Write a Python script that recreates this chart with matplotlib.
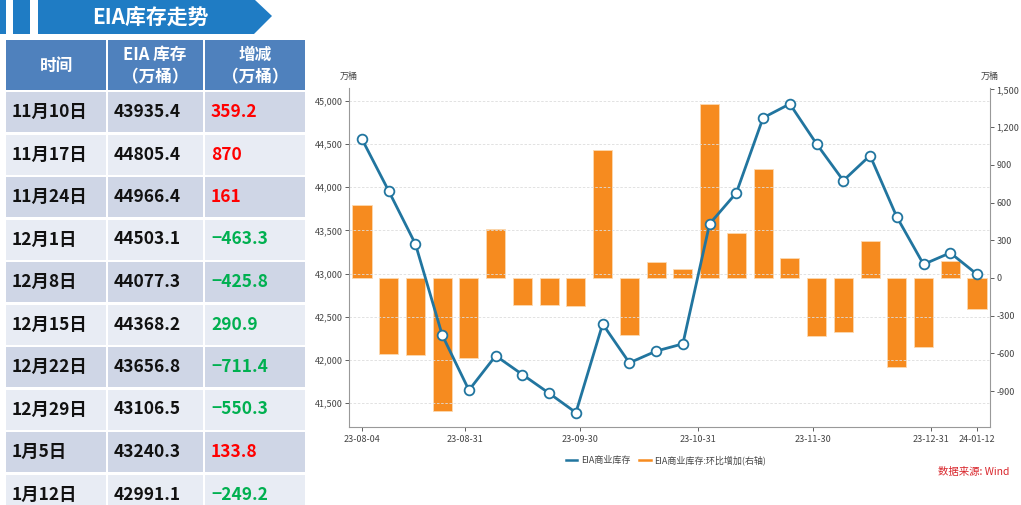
import numpy as np
import pandas as pd
import matplotlib
matplotlib.use('Agg')
import matplotlib.pyplot as plt
import matplotlib.dates as mdates
from matplotlib.patches import Rectangle, Polygon
from matplotlib.ticker import FuncFormatter, FixedLocator

plt.rcParams['font.family'] = ['Noto Sans CJK SC', 'DejaVu Sans']
plt.rcParams['axes.unicode_minus'] = False

# weekly EIA commercial crude stocks (万桶) and week-on-week change
dates = pd.date_range('2023-08-04', '2024-01-12', freq='7D')
stock = [44558, 43957, 43341, 42287, 41648, 42047, 41829, 41612, 41388, 42415,
         41965, 42101, 42185, 43576.2, 43935.4, 44805.4, 44966.4, 44503.1,
         44077.3, 44368.2, 43656.8, 43106.5, 43240.3, 42991.1]
change = [578, -601, -616, -1056, -636, 392, -216, -218, -225, 1018,
          -450, 130, 72, 1385, 359.2, 870, 161, -463.3, -425.8, 290.9,
          -711.4, -550.3, 133.8, -249.2]

xtick_dates = ['2023-08-04', '2023-08-31', '2023-09-30', '2023-10-31',
               '2023-11-30', '2023-12-31', '2024-01-12']
left_ticks = [41500, 42000, 42500, 43000, 43500, 44000, 44500, 45000]
right_ticks = [-900, -600, -300, 0, 300, 600, 900, 1200, 1500]

# table on the left
tbl_dates = ['11月10日', '11月17日', '11月24日', '12月1日', '12月8日',
             '12月15日', '12月22日', '12月29日', '1月5日', '1月12日']
tbl_stock = ['43935.4', '44805.4', '44966.4', '44503.1', '44077.3',
             '44368.2', '43656.8', '43106.5', '43240.3', '42991.1']
tbl_change = ['359.2', '870', '161', '−463.3', '−425.8',
              '290.9', '−711.4', '−550.3', '133.8', '−249.2']
tbl_color = ['#ff0000', '#ff0000', '#ff0000', '#00b050', '#00b050',
             '#00b050', '#00b050', '#00b050', '#ff0000', '#00b050']

W, H = 1021, 505
fig = plt.figure(figsize=(W / 100, H / 100), dpi=100)

# background layer in pixel coordinates
bg = fig.add_axes([0, 0, 1, 1])
bg.set_xlim(0, W)
bg.set_ylim(H, 0)
bg.axis('off')

blue = '#1f7cc4'
bg.add_patch(Rectangle((0, 0), 6, 34, color=blue, lw=0))
bg.add_patch(Rectangle((13, 0), 17, 34, color=blue, lw=0))
bg.add_patch(Polygon([(38, 0), (255, 0), (272, 16), (254, 34), (38, 34)],
                     closed=True, color=blue, lw=0))
bg.text(150, 17, 'EIA库存走势', color='white', fontsize=15, fontweight='bold',
        ha='center', va='center')

cols = [5, 107, 204, 306]
head_top, head_bot = 40, 90
for i in range(3):
    bg.add_patch(Rectangle((cols[i] + 1, head_top), cols[i + 1] - cols[i] - 2,
                           head_bot - head_top, color='#4f81bd', lw=0))
bg.text(56, 66, '时间', color='white', fontsize=12, fontweight='bold',
        ha='center', va='center')
bg.text(155, 55, 'EIA 库存', color='white', fontsize=12, fontweight='bold',
        ha='center', va='center')
bg.text(155, 77, '（万桶）', color='white', fontsize=12, fontweight='bold',
        ha='center', va='center')
bg.text(255, 55, '增减', color='white', fontsize=12, fontweight='bold',
        ha='center', va='center')
bg.text(255, 77, '（万桶）', color='white', fontsize=12, fontweight='bold',
        ha='center', va='center')

row_h = 42.5
for r in range(len(tbl_dates)):
    top = 92 + r * row_h
    fc = '#cfd6e6' if r % 2 == 0 else '#e8ecf4'
    for i in range(3):
        bg.add_patch(Rectangle((cols[i] + 1, top), cols[i + 1] - cols[i] - 2,
                               row_h - 2.5, color=fc, lw=0))
    yc = top + (row_h - 2.5) / 2
    bg.text(12, yc, tbl_dates[r], fontsize=12.5, fontweight='bold', color='#111111',
            ha='left', va='center')
    bg.text(114, yc, tbl_stock[r], fontsize=12.5, fontweight='bold', color='#111111',
            ha='left', va='center')
    bg.text(211, yc, tbl_change[r], fontsize=12.5, fontweight='bold', color=tbl_color[r],
            ha='left', va='center')

# chart
ax = fig.add_axes([349 / W, 1 - 427 / H, (990 - 349) / W, (427 - 88) / H])
ax2 = ax.twinx()
ax.set_zorder(ax2.get_zorder() + 1)
ax.patch.set_visible(False)

line_c = '#21759f'
bar_c = '#f68b1f'
ax2.bar(dates, change, width=5, color=bar_c, edgecolor='#fcd9b0', linewidth=0.6)
ax.plot(dates, stock, color=line_c, lw=2.0, marker='o', markersize=7,
        markerfacecolor='white', markeredgecolor=line_c, markeredgewidth=1.3)

ax.set_xlim(dates[0] - pd.Timedelta(days=3.4), dates[-1] + pd.Timedelta(days=3.4))
ax.set_ylim(41221, 45151)
ax2.set_ylim(-1185, 1511)

ax.yaxis.set_major_locator(FixedLocator(left_ticks))
ax.yaxis.set_major_formatter(FuncFormatter(lambda v, p: f'{v:,.0f}'))
ax2.yaxis.set_major_locator(FixedLocator(right_ticks))
ax2.yaxis.set_major_formatter(FuncFormatter(lambda v, p: f'{v:,.0f}'))
ax.set_xticks(pd.to_datetime(xtick_dates))
ax.xaxis.set_major_formatter(mdates.DateFormatter('%y-%m-%d'))

ax.grid(axis='y', linestyle=(0, (3, 2)), color='#dddddd', linewidth=0.6)
ax.set_axisbelow(True)

for a in (ax, ax2):
    a.spines['top'].set_visible(False)
    for s in ('left', 'right', 'bottom'):
        a.spines[s].set_color('#999999')
        a.spines[s].set_linewidth(0.8)
    a.tick_params(labelsize=6.5, colors='#444444', length=3, width=0.6, pad=1.5)
ax.tick_params(axis='x', pad=3)
ax.spines['right'].set_visible(False)
ax2.spines['left'].set_visible(False)
ax2.spines['bottom'].set_visible(False)

fig.text(349 / W, 1 - 76 / H, '万桶', fontsize=6.5, color='#444444',
         ha='center', va='center')
fig.text(990 / W, 1 - 76 / H, '万桶', fontsize=6.5, color='#444444',
         ha='center', va='center')

handles = [plt.Line2D([], [], color=line_c, lw=1.8),
           plt.Line2D([], [], color=bar_c, lw=1.8)]
fig.legend(handles, ['EIA商业库存', 'EIA商业库存:环比增加(右轴)'],
           loc='center', bbox_to_anchor=(666 / W, 1 - 460 / H), ncol=2,
           frameon=False, fontsize=6.5, handlelength=1.3, handletextpad=0.4,
           columnspacing=1.0, labelcolor='#444444')

fig.text(1009 / W, 1 - 472 / H, '数据来源: Wind', fontsize=7.5, color='#d9262c',
         ha='right', va='center')

fig.savefig('out.png', dpi=100)
plt.close(fig)
